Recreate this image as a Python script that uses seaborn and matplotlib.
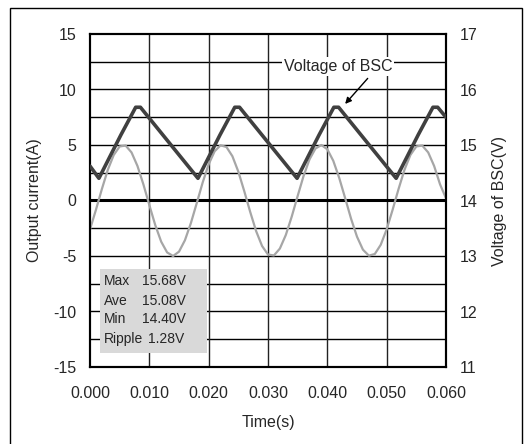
import matplotlib
matplotlib.use("Agg")
import matplotlib.pyplot as plt
import seaborn as sns
import pandas as pd
import numpy as np
from matplotlib.patches import Rectangle

# ---------------- data ----------------
# Output current (A), sampled every 1 ms
cur_t = [i / 1000 for i in range(61)]
cur_a = [-2.60, -0.84, 1.03, 2.76, 4.10, 4.87, 4.95, 4.33, 3.11, 1.45,
         -0.41, -2.22, -3.71, -4.68, -5.00, -4.61, -3.58, -2.04, -0.22, 1.64,
         3.26, 4.43, 4.97, 4.82, 3.99, 2.60, 0.84, -1.03, -2.76, -4.10,
         -4.87, -4.95, -4.33, -3.11, -1.45, 0.41, 2.22, 3.71, 4.68, 5.00,
         4.61, 3.58, 2.04, 0.22, -1.64, -3.26, -4.43, -4.97, -4.82, -3.99,
         -2.60, -0.84, 1.03, 2.76, 4.10, 4.87, 4.95, 4.33, 3.11, 1.45, 0.20]

# Voltage of BSC (V), vertices of the waveform
volt_t = [0.0, 0.0015, 0.0052, 0.0077, 0.0085, 0.0182, 0.0219, 0.0244, 0.0252,
          0.0349, 0.0386, 0.0411, 0.0419, 0.0516, 0.0553, 0.0578, 0.0586, 0.0600]
volt_v = [14.62, 14.40, 15.18, 15.68, 15.68, 14.40, 15.18, 15.68, 15.68,
          14.40, 15.18, 15.68, 15.68, 14.40, 15.18, 15.68, 15.68, 15.50]

x_ticks = [0.000, 0.010, 0.020, 0.030, 0.040, 0.050, 0.060]
left_ticks = [-15, -10, -5, 0, 5, 10, 15]
right_ticks = [11, 12, 13, 14, 15, 16, 17]

stat_names = ["Max", "Ave", "Min", "Ripple"]
stat_vals = ["15.68V", "15.08V", "14.40V", "1.28V"]

# ---------------- style ----------------
sns.set_style("white")
plt.rcParams["font.family"] = ["Liberation Sans", "DejaVu Sans"]

cur_df = pd.DataFrame({"t": cur_t, "a": cur_a})
volt_df = pd.DataFrame({"t": volt_t, "v": volt_v})

fig = plt.figure(figsize=(5.25, 4.44), dpi=100)
ax = fig.add_axes([90 / 525, 1 - 367 / 444, 356 / 525, 333 / 444])
ax2 = ax.twinx()

ax.set_xlim(0, 0.06)
ax.set_ylim(-15, 15)
ax2.set_ylim(11, 17)

# grid
for yv in np.arange(-12.5, 15, 2.5):
    ax.axhline(yv, color="black", lw=1.0, zorder=1)
for xv in x_ticks[1:-1]:
    ax.axvline(xv, color="#222222", lw=1.0, zorder=1)
ax.axhline(0, color="black", lw=2.2, zorder=2)

# stats box
ax.add_patch(Rectangle((10 / 356, 14 / 333), 107 / 356, 84 / 333,
                       transform=ax.transAxes, facecolor="#d9d9d9",
                       edgecolor="none", zorder=3))
line_y = [(367 - 280.7) / 333, (367 - 300.7) / 333,
          (367 - 319.3) / 333, (367 - 339.0) / 333]
for i, (nm, val) in enumerate(zip(stat_names, stat_vals)):
    ax.text(14 / 356, line_y[i], nm, transform=ax.transAxes, fontsize=10,
            va="center", ha="left", zorder=4)
    vx = 51.7 / 356 if nm != "Ripple" else 58 / 356
    ax.text(vx, line_y[i], val, transform=ax.transAxes, fontsize=10,
            va="center", ha="left", zorder=4)

# lines
sns.lineplot(data=cur_df, x="t", y="a", ax=ax, color="#a6a6a6", lw=1.6,
             estimator=None, sort=False, zorder=5)
sns.lineplot(data=volt_df, x="t", y="v", ax=ax2, color="#404040", lw=2.6,
             estimator=None, sort=False, zorder=6)

# annotation
ax2.text(0.0418, 16.41, "Voltage of BSC", fontsize=11.5, ha="center",
         va="center", bbox=dict(facecolor="white", edgecolor="none", pad=1.5),
         zorder=7)
ax2.annotate("", xy=(0.0430, 15.74), xytext=(0.0468, 16.20),
             arrowprops=dict(arrowstyle="-|>", color="black", lw=1.0,
                             mutation_scale=9, shrinkA=0, shrinkB=0),
             zorder=7)

# ticks & labels
ax.set_xticks(x_ticks)
ax.set_xticklabels([f"{v:.3f}" for v in x_ticks])
ax.set_yticks(left_ticks)
ax.set_yticklabels([str(v) for v in left_ticks])
ax2.set_yticks(right_ticks)
ax2.set_yticklabels([str(v) for v in right_ticks])

ax.tick_params(axis="x", length=0, pad=14, labelsize=11.5)
ax.tick_params(axis="y", length=0, pad=10, labelsize=11.5)
ax2.tick_params(axis="y", length=0, pad=10, labelsize=11.5)

ax.set_xlabel("Time(s)", fontsize=11.5, labelpad=10)
ax.set_ylabel("Output current(A)", fontsize=11.5, labelpad=8)
ax2.set_ylabel("Voltage of BSC(V)", fontsize=11.5, labelpad=10)

for a in (ax, ax2):
    for s in a.spines.values():
        s.set_visible(True)
        s.set_color("black")
        s.set_linewidth(1.5)

# figure frame
fig.add_artist(Rectangle((10 / 525, -0.02), 512 / 525, 1.002,
                         transform=fig.transFigure, fill=False,
                         edgecolor="black", lw=1.0))

fig.savefig("out.png", dpi=100)
